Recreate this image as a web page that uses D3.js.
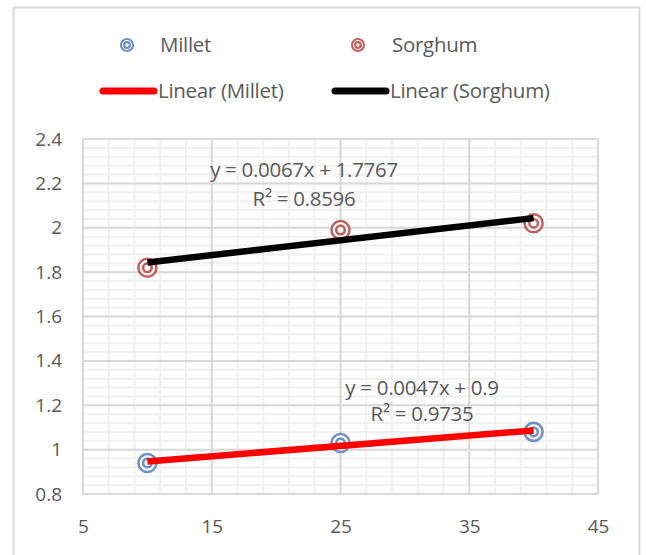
<!DOCTYPE html>
<html><head><meta charset="utf-8">
<script src="https://cdn.jsdelivr.net/npm/d3@7"></script>
<style>body{margin:0;background:#fff;}svg{display:block;font-family:"Open Sans","Noto Sans",sans-serif;}</style>
</head><body>
<script>
const xValues = [10, 25, 40];
const milletValues = [0.94, 1.03, 1.08];
const sorghumValues = [1.82, 1.99, 2.02];
const xTicks = [5, 15, 25, 35, 45];
const yTicks = [0.8, 1, 1.2, 1.4, 1.6, 1.8, 2, 2.2, 2.4];
const milletEq = ["y = 0.0047x + 0.9", "R² = 0.9735"];
const sorghumEq = ["y = 0.0067x + 1.7767", "R² = 0.8596"];

const W = 646, H = 555;
const svg = d3.select("body").append("svg").attr("width", W).attr("height", H);
svg.append("rect").attr("x", 13.5).attr("y", 7.5).attr("width", 626).attr("height", 560)
  .attr("fill", "#fff").attr("stroke", "#d9d9d9").attr("stroke-width", 2);

const m = {l: 83, r: 598, t: 139, b: 494};
const x = d3.scaleLinear().domain([5, 45]).range([m.l, m.r]);
const y = d3.scaleLinear().domain([0.8, 2.4]).range([m.b, m.t]);

// minor grid
const g = svg.append("g");
g.selectAll(".vmin").data(d3.range(5, 45.01, 2)).join("line")
  .attr("x1", d => x(d)).attr("x2", d => x(d)).attr("y1", m.t).attr("y2", m.b)
  .attr("stroke", "#f0f0f0").attr("stroke-width", 2);
g.selectAll(".hmin").data(d3.range(0, 41).map(i => 0.8 + i * 0.04)).join("line")
  .attr("x1", m.l).attr("x2", m.r).attr("y1", d => y(d)).attr("y2", d => y(d))
  .attr("stroke", "#f0f0f0").attr("stroke-width", 2);
// major grid
g.selectAll(".vmaj").data(xTicks).join("line")
  .attr("x1", d => x(d)).attr("x2", d => x(d)).attr("y1", m.t).attr("y2", m.b)
  .attr("stroke", "#d9d9d9").attr("stroke-width", 2);
g.selectAll(".hmaj").data(yTicks).join("line")
  .attr("x1", m.l).attr("x2", m.r).attr("y1", d => y(d)).attr("y2", d => y(d))
  .attr("stroke", "#d9d9d9").attr("stroke-width", 2);

// axes labels
const xAxis = d3.axisBottom(x).tickValues(xTicks).tickSize(0).tickPadding(0).tickFormat(d3.format("d"));
const xa = svg.append("g").attr("transform", `translate(0,${m.b + 25})`).call(xAxis);
xa.select(".domain").remove();
xa.selectAll("text").attr("font-size", 19).attr("fill", "#595959").attr("font-family", "Open Sans, Noto Sans, sans-serif");
const yAxis = d3.axisLeft(y).tickValues(yTicks).tickSize(0).tickPadding(0).tickFormat(d => d3.format("")(+d.toFixed(1)));
const ya = svg.append("g").attr("transform", `translate(${m.l - 21},0)`).call(yAxis);
ya.select(".domain").remove();
ya.selectAll("text").attr("font-size", 19).attr("fill", "#595959").attr("font-family", "Open Sans, Noto Sans, sans-serif");

function fit(xs, ys) {
  const mx = d3.mean(xs), my = d3.mean(ys);
  const s = d3.sum(xs.map((v, i) => (v - mx) * (ys[i] - my))) / d3.sum(xs.map(v => (v - mx) ** 2));
  return {s, b: my - s * mx};
}
function marker(sel, cx, cy, color, r1, r2, sw) {
  sel.append("circle").attr("cx", cx).attr("cy", cy).attr("r", r1).attr("fill", "#fff").attr("stroke", color).attr("stroke-width", sw);
  sel.append("circle").attr("cx", cx).attr("cy", cy).attr("r", r2).attr("fill", "none").attr("stroke", color).attr("stroke-width", sw);
}

const series = [
  {vals: milletValues, color: "#6f92c2", line: "#ff0000"},
  {vals: sorghumValues, color: "#c0625f", line: "#000000"}
];
series.forEach(s => {
  const mg = svg.append("g");
  xValues.forEach((xv, i) => marker(mg, x(xv), y(s.vals[i]), s.color, 9, 4.3, 2.6));
});
series.forEach(s => {
  const f = fit(xValues, s.vals);
  const x0 = d3.min(xValues), x1 = d3.max(xValues);
  svg.append("line").attr("x1", x(x0)).attr("y1", y(f.b + f.s * x0)).attr("x2", x(x1)).attr("y2", y(f.b + f.s * x1))
    .attr("stroke", s.line).attr("stroke-width", 6.5);
});

// equations
const eqStyle = t => t.attr("font-size", 20.5).attr("fill", "#595959").attr("text-anchor", "middle").attr("letter-spacing", "-0.3");
eqStyle(svg.append("text").attr("x", 304).attr("y", 177).text(sorghumEq[0]));
eqStyle(svg.append("text").attr("x", 304).attr("y", 206).text(sorghumEq[1]));
eqStyle(svg.append("text").attr("x", 422).attr("y", 395).text(milletEq[0]));
eqStyle(svg.append("text").attr("x", 422).attr("y", 421).text(milletEq[1]));

// legend
const leg = svg.append("g");
const legText = (tx, ty, t) => leg.append("text").attr("x", tx).attr("y", ty).attr("font-size", 20.5).attr("fill", "#595959").attr("letter-spacing", "-0.3").text(t);
marker(leg, 127, 45, series[0].color, 6, 2.8, 2.2);
legText(160, 52, "Millet");
marker(leg, 358, 45, series[1].color, 6, 2.8, 2.2);
legText(392, 52, "Sorghum");
leg.append("line").attr("x1", 103).attr("x2", 154).attr("y1", 91).attr("y2", 91).attr("stroke", "#ff0000").attr("stroke-width", 7).attr("stroke-linecap", "round");
legText(158, 98, "Linear (Millet)");
leg.append("line").attr("x1", 335).attr("x2", 386).attr("y1", 91).attr("y2", 91).attr("stroke", "#000").attr("stroke-width", 7).attr("stroke-linecap", "round");
legText(390, 98, "Linear (Sorghum)");
</script>
</body></html>
